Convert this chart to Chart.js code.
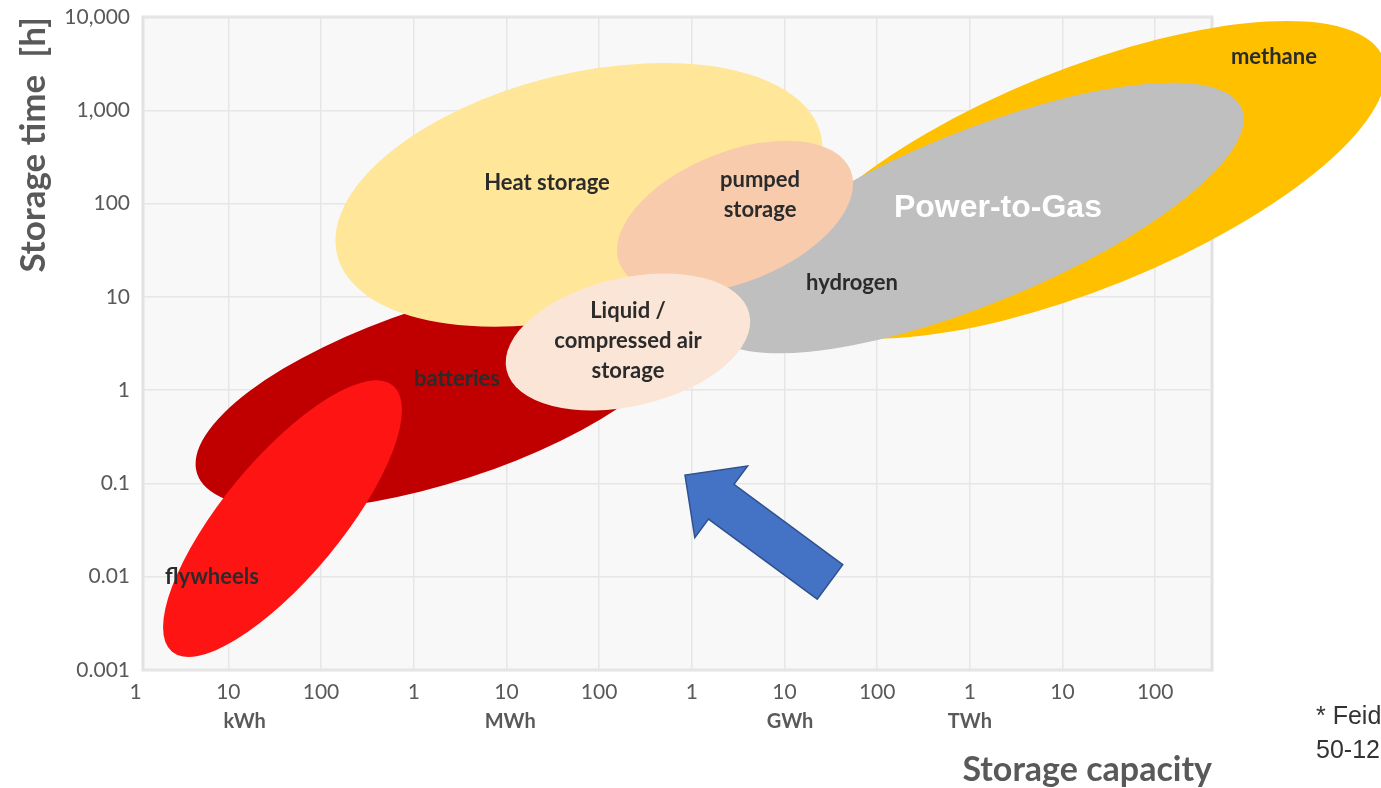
<!DOCTYPE html>
<html>
<head>
<meta charset="utf-8">
<script src="https://cdn.jsdelivr.net/npm/chart.js@4.4.0/dist/chart.umd.min.js"></script>
<style>
  html, body { margin: 0; padding: 0; background: #fff; overflow: hidden; }
  #wrap { position: relative; width: 1381px; height: 788px; overflow: hidden; }
  .note { position: absolute; left: 1316px; font: 25px "Liberation Sans", Arial, sans-serif; color: #333; white-space: nowrap; }
</style>
</head>
<body>
<div id="wrap">
  <canvas id="chart1" width="1381" height="788"></canvas>
  <div class="note" style="top:701px">* Feid</div>
  <div class="note" style="top:735px">50-12</div>
</div>
<script>
// storage technologies, listed back to front
const techNames = ['methane', 'hydrogen', 'batteries', 'Heat storage', 'pumped storage', 'Liquid / compressed air storage', 'flywheels'];
const centerKWh = [1.6e10, 1.14e9, 2.02e3, 6.07e4, 2.93e6, 2.05e5, 38.4];
const centerHours = [180, 70, 0.91, 124, 71.8, 3.28, 0.042];
const spanDecades = [3.5, 3.10, 2.77, 2.68, 1.34, 1.34, 1.86];   // half of the long axis
const widthDecades = [1.18, 0.925, 0.946, 1.30, 0.70, 0.69, 0.635]; // half of the short axis
const tiltDeg = [22, 22.3, 18, 14, 22, 13, 50.3];
const fillColors = ['#FFC000', '#BFBFBF', '#C00000', '#FFE699', '#F8CBAD', '#FBE5D6', '#FF1414'];

// text inside the bubbles
const labelLines = [['methane'], ['Power-to-Gas'], ['hydrogen'], ['batteries'], ['Heat storage'], ['pumped', 'storage'], ['Liquid /', 'compressed air', 'storage'], ['flywheels']];
const labelKWh = [1.91e12, 2.01e9, 5.35e7, 2.93e3, 2.74e4, 5.45e6, 2.05e5, 6.66];
const labelHours = [3725, 89.7, 14.1, 1.32, 166, 125, 3.37, 0.00993];

// arrow
const arrowTip = { x: 8.45e5, y: 0.123 };
const arrowTail = { x: 3.1e7, y: 0.0088 };

// axes
const xTickValues = [1, 10, 100, 1e3, 1e4, 1e5, 1e6, 1e7, 1e8, 1e9, 1e10, 1e11];
const xTickLabels = ['1', '10', '100', '1', '10', '100', '1', '10', '100', '1', '10', '100'];
const unitValues = [15, 1.1e4, 1.15e7, 1e9];
const unitLabels = ['kWh', 'MWh', 'GWh', 'TWh'];
const yTickValues = [0.001, 0.01, 0.1, 1, 10, 100, 1000, 10000];
const yTickLabels = ['0.001', '0.01', '0.1', '1', '10', '100', '1,000', '10,000'];

const xMin = 1.2;
const xMax = 4.1e11;
const tickColor = '#595959';
const gridColor = '#e6e6e6';

Chart.defaults.font.family = 'Lato';

const plotBackground = {
  id: 'plotBackground',
  beforeDraw(chart) {
    const { ctx, chartArea: a } = chart;
    ctx.save();
    ctx.fillStyle = '#f8f8f8';
    ctx.fillRect(a.left, a.top, a.right - a.left, a.bottom - a.top);
    ctx.strokeStyle = '#e2e2e2';
    ctx.lineWidth = 3;
    ctx.strokeRect(a.left, a.top, a.right - a.left, a.bottom - a.top);
    ctx.restore();
  },
};

const bubbles = {
  id: 'bubbles',
  beforeDatasetsDraw(chart) {
    const { ctx, scales: { x, y } } = chart;
    const decade = (x.getPixelForValue(10) - x.getPixelForValue(1) + y.getPixelForValue(1) - y.getPixelForValue(10)) / 2;

    chart.data.datasets.forEach((ds, i) => {
      const pt = chart.getDatasetMeta(i).data[0];
      ctx.save();
      ctx.fillStyle = ds.backgroundColor;
      ctx.beginPath();
      ctx.ellipse(pt.x, pt.y, ds.rx * decade, ds.ry * decade, -ds.tilt * Math.PI / 180, 0, 2 * Math.PI);
      ctx.fill();
      ctx.restore();
    });

    // block arrow
    const tx = x.getPixelForValue(arrowTip.x), ty = y.getPixelForValue(arrowTip.y);
    const sx = x.getPixelForValue(arrowTail.x), sy = y.getPixelForValue(arrowTail.y);
    const len = Math.hypot(tx - sx, ty - sy);
    const ux = (tx - sx) / len, uy = (ty - sy) / len;
    const nx = -uy, ny = ux;
    const shaft = 21.5, head = 44.5, headLen = 45;
    const bx = tx - ux * headLen, by = ty - uy * headLen;
    ctx.save();
    ctx.beginPath();
    ctx.moveTo(sx + nx * shaft, sy + ny * shaft);
    ctx.lineTo(bx + nx * shaft, by + ny * shaft);
    ctx.lineTo(bx + nx * head, by + ny * head);
    ctx.lineTo(tx, ty);
    ctx.lineTo(bx - nx * head, by - ny * head);
    ctx.lineTo(bx - nx * shaft, by - ny * shaft);
    ctx.lineTo(sx - nx * shaft, sy - ny * shaft);
    ctx.closePath();
    ctx.fillStyle = '#4472C4';
    ctx.fill();
    ctx.strokeStyle = '#2F528F';
    ctx.lineWidth = 1.5;
    ctx.stroke();
    ctx.restore();

    // labels
    ctx.save();
    ctx.textAlign = 'center';
    ctx.textBaseline = 'middle';
    labelLines.forEach((lines, i) => {
      const px = x.getPixelForValue(labelKWh[i]);
      const py = y.getPixelForValue(labelHours[i]);
      if (lines[0] === 'Power-to-Gas') {
        ctx.font = 'bold 32px "Liberation Sans", Arial, sans-serif';
        ctx.fillStyle = '#ffffff';
      } else {
        ctx.font = 'bold 22px Lato';
        ctx.fillStyle = '#2b2b2b';
      }
      const step = 30;
      lines.forEach((t, k) => {
        ctx.fillText(t, px, py + (k - (lines.length - 1) / 2) * step);
      });
    });
    ctx.restore();
  },
};

const datasets = techNames.map((name, i) => ({
  label: name,
  data: [{ x: centerKWh[i], y: centerHours[i] }],
  backgroundColor: fillColors[i],
  rx: spanDecades[i],
  ry: widthDecades[i],
  tilt: tiltDeg[i],
  pointRadius: 0,
}));

function fixedHeight(h) {
  return (s) => { s.height = h; s.paddingLeft = 0; s.paddingRight = 0; };
}

new Chart(document.getElementById('chart1'), {
  type: 'scatter',
  data: { datasets: datasets },
  plugins: [plotBackground, bubbles],
  options: {
    responsive: false,
    animation: false,
    layout: { padding: { top: 17, right: 169, bottom: 0, left: 0 } },
    plugins: {
      legend: { display: false },
      tooltip: { enabled: false },
    },
    scales: {
      x: {
        type: 'logarithmic',
        position: 'bottom',
        weight: 0,
        min: xMin,
        max: xMax,
        afterBuildTicks: (s) => { s.ticks = xTickValues.map((v) => ({ value: v })); },
        afterFit: fixedHeight(36),
        border: { display: false },
        grid: {
          drawTicks: false,
          lineWidth: 1.5,
          color: (c) => (c.tick && c.tick.value < xMin ? 'rgba(0,0,0,0)' : gridColor),
        },
        ticks: {
          autoSkip: false,
          maxRotation: 0,
          padding: 10,
          color: tickColor,
          font: { size: 21 },
          callback: (v, i) => xTickLabels[i],
        },
      },
      xUnit: {
        type: 'logarithmic',
        position: 'bottom',
        axis: 'x',
        weight: 1,
        min: xMin,
        max: xMax,
        afterBuildTicks: (s) => { s.ticks = unitValues.map((v) => ({ value: v })); },
        afterFit: fixedHeight(82),
        border: { display: false },
        grid: { display: false, drawTicks: false },
        ticks: {
          autoSkip: false,
          maxRotation: 0,
          padding: 4,
          color: tickColor,
          font: { size: 20, weight: 'bold' },
          callback: (v, i) => unitLabels[i],
        },
        title: {
          display: true,
          text: 'Storage capacity',
          align: 'end',
          color: tickColor,
          font: { size: 34, weight: 'bold' },
          padding: { top: 0, bottom: -2 },
        },
      },
      y: {
        type: 'logarithmic',
        min: 0.001,
        max: 10000,
        afterBuildTicks: (s) => { s.ticks = yTickValues.map((v) => ({ value: v })); },
        afterFit: (s) => { s.width = 143; s.paddingTop = 0; s.paddingBottom = 0; },
        border: { display: false },
        grid: { drawTicks: false, lineWidth: 1.5, color: gridColor },
        ticks: {
          padding: 13,
          color: tickColor,
          font: { size: 21 },
          callback: (v, i) => yTickLabels[i],
        },
        title: {
          display: true,
          text: 'Storage time  [h]',
          align: 'end',
          color: tickColor,
          font: { size: 35, weight: 'bold' },
          padding: { top: 13, bottom: 0 },
        },
      },
    },
  },
});
</script>
</body>
</html>
